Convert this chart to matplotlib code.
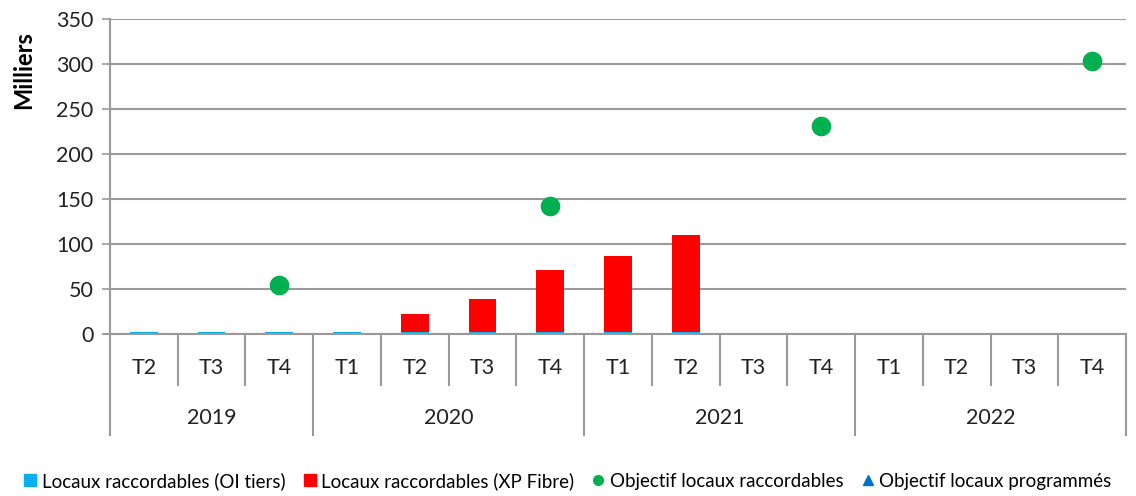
import matplotlib.pyplot as plt
from matplotlib.lines import Line2D
import numpy as np

plt.rcParams['font.family'] = ['Lato', 'DejaVu Sans']

# Trimestres et années
years = ['2019', '2020', '2021', '2022']
quarters = [['T2', 'T3', 'T4'],
            ['T1', 'T2', 'T3', 'T4'],
            ['T1', 'T2', 'T3', 'T4'],
            ['T1', 'T2', 'T3', 'T4']]

# Séries (en milliers)
oi_tiers = [2, 2, 2, 2, 2, 2, 2, 2, 2, 0, 0, 0, 0, 0, 0]
xp_fibre = [0, 0, 0, 0, 20.5, 36.5, 69, 85, 107.5, 0, 0, 0, 0, 0, 0]
objectif_racc = [None, None, 55, None, None, None, 142, None, None, None, 231, None, None, None, 303]

labels = [q for qs in quarters for q in qs]
n = len(labels)
x = np.arange(n)

fig = plt.figure(figsize=(11.36, 4.96), dpi=100)
ax = fig.add_axes([110 / 1136, 1 - 334 / 496, 1016 / 1136, 315 / 496])

grey = '#9a9a9a'
blue = '#00B0F0'
red = '#FF0000'
green = '#00B050'
txt = '#222222'
fs = 15.5

ax.bar(x, oi_tiers, width=0.41, color=blue, zorder=3)
ax.bar(x, xp_fibre, width=0.41, bottom=oi_tiers, color=red, zorder=3)

obj_x = [i for i, v in enumerate(objectif_racc) if v is not None]
obj_y = [v for v in objectif_racc if v is not None]
ax.scatter(obj_x, obj_y, s=200, color=green, zorder=4, linewidths=0)

ax.set_xlim(-0.5, n - 0.5)
ax.set_ylim(0, 350)
ax.set_yticks(range(0, 351, 50))
ax.yaxis.grid(True, color=grey, linewidth=1.5, zorder=0)
ax.tick_params(axis='y', labelsize=fs, length=6, width=1.2, color=grey, pad=6, labelcolor=txt)
ax.set_xticks([])
for s in ['top', 'right', 'bottom']:
    ax.spines[s].set_visible(False)
ax.spines['left'].set_color(grey)
ax.spines['left'].set_linewidth(1.5)

# axe des catégories à deux niveaux
trans = ax.get_xaxis_transform()
px = 1 / 315
ax.plot([-0.5 - 0.08, n - 0.5], [0, 0], transform=trans, color=grey, lw=1.5, clip_on=False, zorder=5)
ax.plot([-0.5, -0.5], [0, -101 * px], transform=trans, color=grey, lw=1.5, clip_on=False)
for i, lab in enumerate(labels):
    ax.text(i, -34 * px, lab, transform=trans, ha='center', va='center', fontsize=fs, color=txt)
pos = -0.5
for y, qs in zip(years, quarters):
    for k in range(1, len(qs)):
        ax.plot([pos + k, pos + k], [0, -51 * px], transform=trans, color=grey, lw=1.5, clip_on=False)
    ax.text(pos + len(qs) / 2, -84 * px, y, transform=trans, ha='center', va='center', fontsize=fs, color=txt)
    pos += len(qs)
    ax.plot([pos, pos], [0, -101 * px], transform=trans, color=grey, lw=1.5, clip_on=False)

fig.text(24 / 1136, 1 - 70 / 496, 'Milliers', rotation=90, ha='center', va='center',
         fontsize=17, fontweight='bold')

handles = [
    Line2D([], [], marker='s', ls='', color=blue, markersize=8),
    Line2D([], [], marker='s', ls='', color=red, markersize=9),
    Line2D([], [], marker='o', ls='', color=green, markersize=7),
    Line2D([], [], marker='^', ls='', color='#0070C0', markersize=7),
]
names = ['Locaux raccordables (OI tiers)', 'Locaux raccordables (XP Fibre)',
         'Objectif locaux raccordables', 'Objectif locaux programmés']
fig.legend(handles, names, loc='center', bbox_to_anchor=(0.5, 1 - 481 / 496), ncol=4,
           frameon=False, fontsize=13.5, handlelength=0.6, handletextpad=0.3, columnspacing=1.0)

fig.savefig('out.png', dpi=100)
